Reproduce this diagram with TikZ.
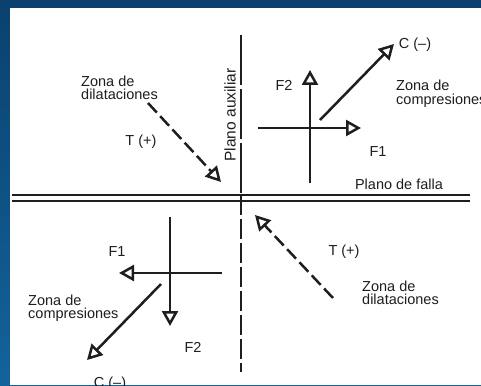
\documentclass[tikz,border=0pt]{standalone}
\usepackage{fontspec}
\setmainfont{Liberation Sans}
\usetikzlibrary{arrows.meta}
\definecolor{bgtop}{HTML}{0B416E}
\definecolor{bgbot}{HTML}{13639B}
\definecolor{ink}{HTML}{1E1E1E}
\begin{document}
\begin{tikzpicture}[x=1pt,y=-1pt,
  lbl/.style={inner sep=0pt, text=ink, font=\fontsize{14.5}{13.5}\selectfont},
  lblml/.style={lbl, align=left, anchor=west},
  force/.style={draw=ink, line width=2.5pt, -{Triangle[open, length=15pt, width=16pt]}},
  tens/.style={force, dash pattern=on 13pt off 5pt},
  aux/.style={draw=ink, line width=1.5pt},
  falla/.style={draw=ink, line width=2pt}
]
\useasboundingbox (0,0) rectangle (481,385);
\shade[top color=bgtop, bottom color=bgbot] (0,0) rectangle (481,385);
\fill[white] (10,8) rectangle (481,385);

% Plano auxiliar
\coordinate (auxT) at (241,35);
\coordinate (auxM) at (241,195);
\coordinate (auxB) at (241,372);
\draw[aux, dash pattern=on 50pt off 4pt] (auxT) -- (auxM);
\draw[aux, dash pattern=on 20pt off 4pt] (auxM) -- (auxB);

% Plano de falla
\coordinate (fA1) at (12,195);
\coordinate (fB1) at (470,195);
\coordinate (fA2) at (12,201);
\coordinate (fB2) at (470,201);
\draw[falla] (fA1) -- (fB1);
\draw[falla] (fA2) -- (fB2);

% upper right
\coordinate (h1s) at (258,128);
\coordinate (h1e) at (361,128);
\coordinate (v1s) at (310,183);
\coordinate (v1e) at (310,70);
\coordinate (c1s) at (320,120);
\coordinate (c1e) at (394,44);
\draw[force] (h1s) -- (h1e);
\draw[force] (v1s) -- (v1e);
\draw[force] (c1s) -- (c1e);
\node[lbl] (F2a) at (284,85) {F2};
\node[lbl] (F1a) at (378,152) {F1};
\node[lbl] (Ca) at (415,45) {C (--)};
\node[lblml] (ZCa) at (396,94) {Zona de\\compresiones};
\node[lbl] (PF) at (399,184) {Plano de falla};

% upper left
\coordinate (t1s) at (148,103);
\coordinate (t1e) at (221,182);
\draw[tens] (t1s) -- (t1e);
\node[lblml] (ZDa) at (81,88) {Zona de\\dilataciones};
\node[lbl] (Ta) at (141,142) {T (+)};
\node[lbl, rotate=90, font=\fontsize{15.5}{15}\selectfont] (PA) at (230,115) {Plano auxiliar};

% lower left
\coordinate (v2s) at (170,217);
\coordinate (v2e) at (170,326);
\coordinate (h2s) at (222,273);
\coordinate (h2e) at (119,273);
\coordinate (c2s) at (161,284);
\coordinate (c2e) at (87,360);
\draw[force] (v2s) -- (v2e);
\draw[force] (h2s) -- (h2e);
\draw[force] (c2s) -- (c2e);
\node[lbl] (F1b) at (117,252) {F1};
\node[lbl] (F2b) at (193,347) {F2};
\node[lblml] (ZCb) at (28,308) {Zona de\\compresiones};
\node[lbl] (Cb) at (110,384) {C (--)};

% lower right
\coordinate (t2s) at (333,298);
\coordinate (t2e) at (255,215);
\draw[tens] (t2s) -- (t2e);
\node[lbl] (Tb) at (344,252) {T (+)};
\node[lblml] (ZDb) at (362,293) {Zona de\\dilataciones};
\end{tikzpicture}
\end{document}
